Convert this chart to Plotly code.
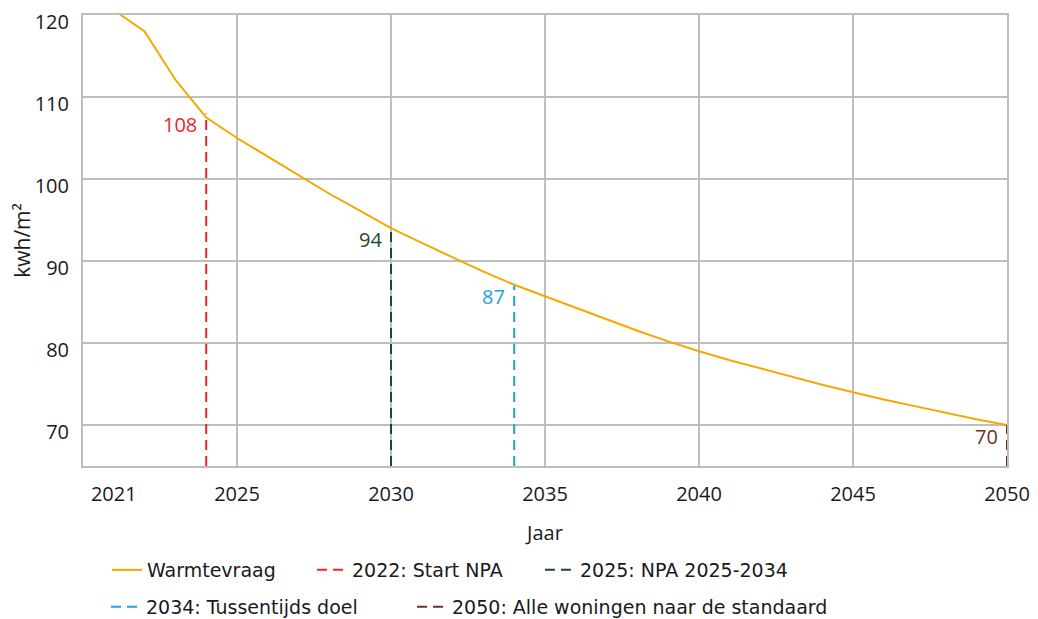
import plotly.graph_objects as go

# ---- data ----
years = list(range(2021, 2051))
warmtevraag = [120.6, 118.0, 112.1, 107.5, 105.0, 102.7, 100.5, 98.2, 96.1, 94.0,
               92.2, 90.4, 88.7, 87.1, 85.7, 84.3, 82.9, 81.5, 80.2, 79.0,
               77.9, 76.9, 75.9, 74.9, 74.0, 73.1, 72.3, 71.5, 70.7, 70.0]

marker_names = ["2022: Start NPA", "2025: NPA 2025-2034", "2034: Tussentijds doel",
                "2050: Alle woningen naar de standaard"]
marker_years = [2024, 2030, 2034, 2050]
marker_values = [108, 94, 87, 70]
marker_colors = ["#E8262B", "#1B4A2B", "#1CA1E3", "#6B3326"]

x_ticks = [2021, 2025, 2030, 2035, 2040, 2045, 2050]
x_grid = [2025, 2030, 2035, 2040, 2045, 2050]
y_ticks = [70, 80, 90, 100, 110, 120]
y_bottom = 65

FONT = "Open Sans, Liberation Sans, Arial, sans-serif"
LFONT = "DejaVu Sans, Open Sans, sans-serif"
TXT = "#1a1a1a"

# legend slots: (legend id, x in paper, y in container)
legend_slots = [("legend", 0.026, 0.0921), ("legend2", 0.2478, 0.0921), ("legend3", 0.4946, 0.0921),
                ("legend4", 0.0249, 0.0323), ("legend5", 0.3561, 0.0323)]

fig = go.Figure()
fig.add_trace(go.Scatter(
    x=years, y=warmtevraag, mode="lines", name="Warmtevraag", showlegend=True,
    line=dict(color="#F5A800", width=2), cliponaxis=False, legend="legend"))

for i, (name, yr, val, col) in enumerate(zip(marker_names, marker_years, marker_values, marker_colors)):
    fig.add_trace(go.Scatter(
        x=[yr, yr], y=[y_bottom, val], mode="lines", name=name, showlegend=True,
        line=dict(color=col, width=2, dash="10px,6px"), legend=legend_slots[i + 1][0], cliponaxis=False))
    fig.add_annotation(x=yr, y=val, text=str(val), showarrow=False,
                       xanchor="right", yanchor="middle", xshift=-7, yshift=-11,
                       font=dict(family=FONT, size=20, color=col))

layout_legends = {}
for lid, lx, ly in legend_slots:
    layout_legends[lid] = dict(orientation="h", x=lx, xanchor="left", y=ly, yanchor="middle",
                               yref="container", visible=True,
                               font=dict(family=LFONT, size=19, color=TXT), bgcolor="rgba(0,0,0,0)")

fig.update_layout(
    width=1038, height=619,
    showlegend=True,
    margin=dict(l=75, r=39, t=7, b=161),
    plot_bgcolor="white", paper_bgcolor="white",
    font=dict(family=FONT, color=TXT),
    xaxis=dict(range=[2020, 2050], tickvals=x_ticks, showgrid=False, automargin=False,
               minor=dict(tickvals=x_grid, showgrid=True, gridcolor="#BEBEBE", gridwidth=2, ticks=""),
               showline=True, linecolor="#BEBEBE", linewidth=2, mirror=True,
               ticks="outside", ticklen=9, tickcolor="rgba(0,0,0,0)",
               ticklabeloverflow="allow",
               tickfont=dict(family=FONT, size=20, color=TXT),
               title=dict(text="Jaar", font=dict(family=FONT, size=20, color=TXT), standoff=20),
               zeroline=False),
    yaxis=dict(range=[y_bottom, 120], tickvals=y_ticks, showgrid=True, automargin=False,
               gridcolor="#BEBEBE", gridwidth=2,
               showline=True, linecolor="#BEBEBE", linewidth=2, mirror=True,
               ticks="outside", ticklen=8, tickcolor="rgba(0,0,0,0)",
               ticklabeloverflow="allow", ticklabelshift=7,
               tickfont=dict(family=FONT, size=20, color=TXT),
               title=dict(text="kwh/m²", font=dict(family=FONT, size=21, color=TXT), standoff=6),
               zeroline=False),
    **layout_legends,
)

fig.write_html("out.html")
